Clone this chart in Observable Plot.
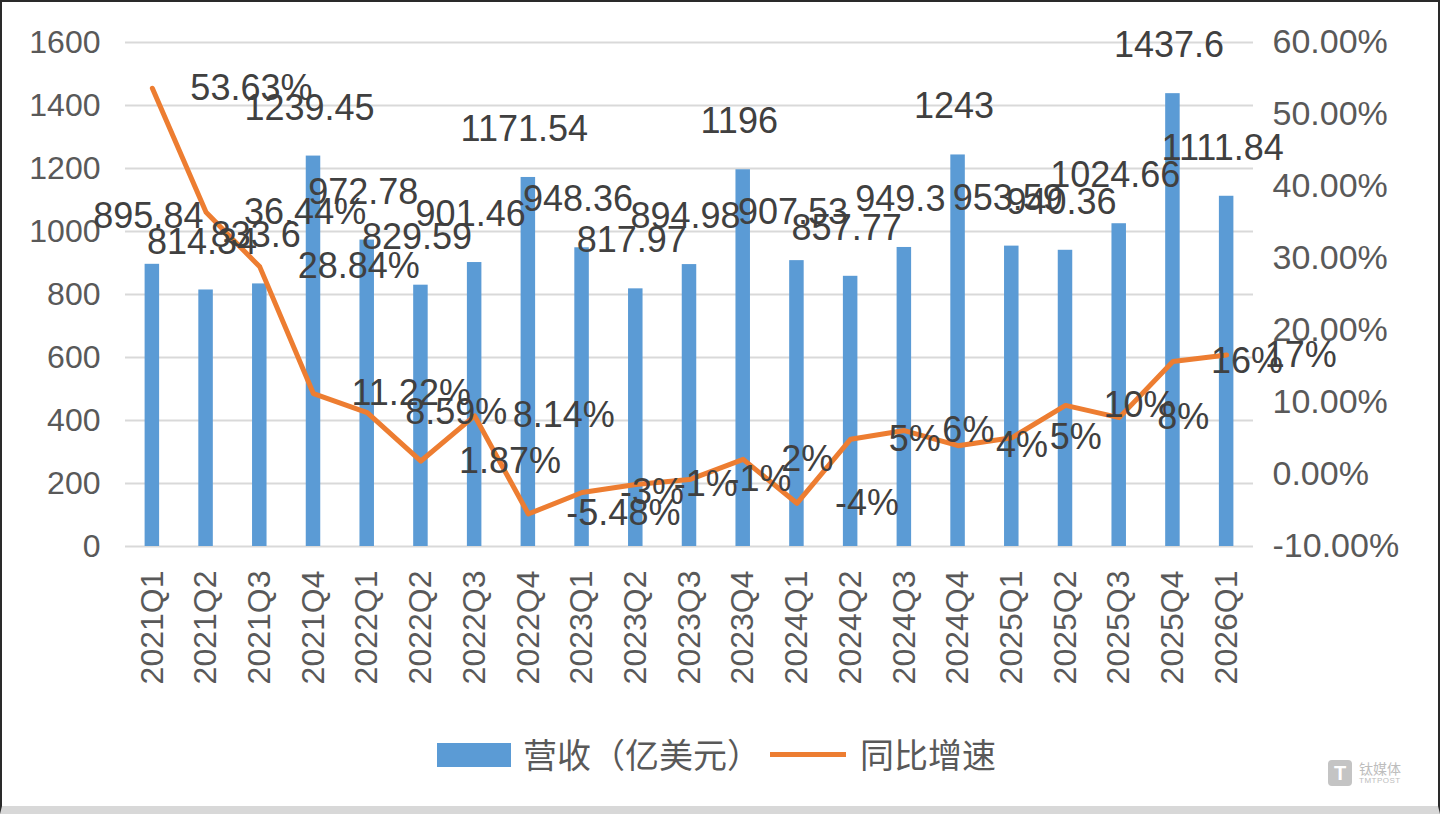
<!DOCTYPE html>
<html>
<head>
<meta charset="utf-8">
<script src="https://cdn.jsdelivr.net/npm/d3@7"></script>
<script src="https://cdn.jsdelivr.net/npm/@observablehq/plot@0.6"></script>
<style>
  html, body { margin: 0; padding: 0; background: #fff; }
  body { width: 1440px; height: 814px; overflow: hidden; position: relative;
         font-family: "Liberation Sans", Arial, "Noto Sans CJK SC", sans-serif; }
  #chart { position: absolute; left: 0; top: 0; }
  #frame { position: absolute; inset: 0; border: 2px solid #2a2a2a; border-bottom: 8px solid #d8d8d8; box-sizing: border-box; pointer-events: none; }
  .leg { position: absolute; font-family: "Noto Sans CJK SC", sans-serif; font-size: 34px; color: #595959; line-height: 34px; }
  .sw-bar { position: absolute; left: 437px; top: 743px; width: 74px; height: 24px; background: #5b9bd5; }
  .sw-line { position: absolute; left: 770px; top: 752px; width: 76px; height: 5px; background: #ed7d31; }
  #logo { position: absolute; left: 1328px; top: 760px; color: #bdbdbd; font-family: "Noto Sans CJK SC", sans-serif; }
  #logo .sq { position: absolute; left: 0; top: 0; width: 24px; height: 26px; background: #c4c4c4; border-radius: 4px; color: #fff; font: bold 20px/26px "Liberation Sans", Arial; text-align: center; }
  #logo .t1 { position: absolute; left: 31px; top: -2px; font-size: 14px; white-space: nowrap; }
  #logo .t2 { position: absolute; left: 31px; top: 16px; font-size: 8px; font-family: "Liberation Sans", Arial; white-space: nowrap; letter-spacing: 0.5px; }
</style>
</head>
<body>
<div id="chart"></div>
<div class="sw-bar"></div>
<div class="leg" style="left:523px; top:737px;">营收（亿美元）</div>
<div class="sw-line"></div>
<div class="leg" style="left:860px; top:737px;">同比增速</div>
<div id="logo"><div class="sq">T</div><div class="t1">钛媒体</div><div class="t2">TMTPOST</div></div>
<div id="frame"></div>
<script>
const quarters = ["2021Q1","2021Q2","2021Q3","2021Q4","2022Q1","2022Q2","2022Q3","2022Q4",
  "2023Q1","2023Q2","2023Q3","2023Q4","2024Q1","2024Q2","2024Q3","2024Q4",
  "2025Q1","2025Q2","2025Q3","2025Q4","2026Q1"];
const revenue = [895.84, 814.34, 833.6, 1239.45, 972.78, 829.59, 901.46, 1171.54,
  948.36, 817.97, 894.98, 1196, 907.53, 857.77, 949.3, 1243,
  953.59, 940.36, 1024.66, 1437.6, 1111.84];
const revenueLabels = ["895.84","814.34","833.6","1239.45","972.78","829.59","901.46","1171.54",
  "948.36","817.97","894.98","1196","907.53","857.77","949.3","1243",
  "953.59","940.36","1024.66","1437.6","1111.84"];
const growth = [53.63, 36.44, 28.84, 11.22, 8.59, 1.87, 8.14, -5.48,
  -2.5, -1.4, -0.7, 2.1, -4.0, 4.9, 6.1, 4.0,
  5.1, 9.6, 7.9, 15.7, 16.6];
const growthLabels = ["53.63%","36.44%","28.84%","11.22%","8.59%","1.87%","8.14%","-5.48%",
  "-3%","-1%","-1%","2%","-4%","5%","6%","4%",
  "5%","10%","8%","16%","17%"];
const leftTicks = [0, 200, 400, 600, 800, 1000, 1200, 1400, 1600];
const rightTicks = [-10, 0, 10, 20, 30, 40, 50, 60];
const rightTickLabels = ["-10.00%","0.00%","10.00%","20.00%","30.00%","40.00%","50.00%","60.00%"];

// secondary axis: -10%..60% mapped onto the primary 0..1600 domain
const toLeft = p => (p + 10) / 70 * 1600;

const rows = quarters.map((q, i) => ({
  q, rev: revenue[i], revLabel: revenueLabels[i], g: growth[i], gLabel: growthLabels[i]
}));

const font = '"Liberation Sans", Arial, sans-serif';

const chart = Plot.plot({
  width: 1440,
  height: 720,
  marginLeft: 125,
  marginRight: 187,
  marginTop: 42,
  marginBottom: 174,
  style: { fontFamily: font, fontSize: "32px", color: "#595959", background: "transparent" },
  x: { domain: quarters, paddingInner: 0.73, paddingOuter: 0.365, round: false, label: null },
  y: { domain: [0, 1600], label: null },
  marks: [
    Plot.gridY(leftTicks, { stroke: "#d9d9d9", strokeOpacity: 1, strokeWidth: 2 }),
    Plot.axisY(leftTicks, { anchor: "left", tickSize: 0, tickPadding: 25, fill: "#595959", fontSize: 32, tickFormat: d => String(d) }),
    Plot.axisY(rightTicks.map(toLeft), {
      anchor: "right", tickSize: 0, tickPadding: 19, fill: "#595959", fontSize: 34,
      tickFormat: v => rightTickLabels[rightTicks.findIndex(p => Math.abs(toLeft(p) - v) < 1e-6)]
    }),
    Plot.axisX({ tickRotate: -90, tickSize: 0, tickPadding: 24, fill: "#595959", fontSize: 32, label: null }),
    Plot.barY(rows, { x: "q", y: "rev", fill: "#5b9bd5" }),
    Plot.lineY(rows, { x: "q", y: d => toLeft(d.g), stroke: "#ed7d31", strokeWidth: 5, curve: "linear", strokeLinejoin: "round" }),
    Plot.text(rows, { x: "q", y: "rev", text: "revLabel", dy: -48, dx: -4, fontSize: 36, fill: "#404040" }),
    Plot.text(rows, { x: "q", y: d => toLeft(d.g), text: "gLabel", textAnchor: "start", dx: 38, fontSize: 36, fill: "#404040" })
  ]
});
document.getElementById("chart").appendChild(chart);
</script>
</body>
</html>
